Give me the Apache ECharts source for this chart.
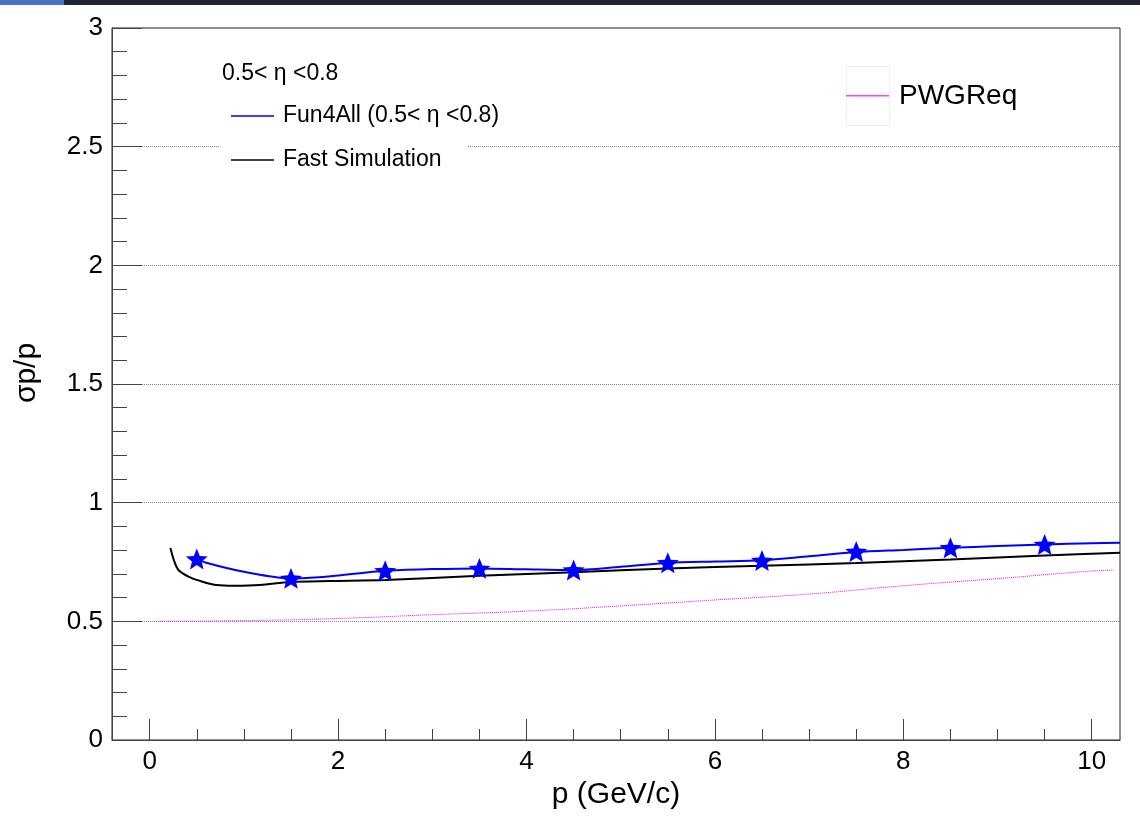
<!DOCTYPE html>
<html>
<head>
<meta charset="utf-8">
<script src="https://cdn.jsdelivr.net/npm/echarts@6/dist/echarts.min.js"></script>
<style>
html,body{margin:0;padding:0;background:#fff;}
#chart{width:1140px;height:822px;}
</style>
</head>
<body>
<div id="chart"></div>
<script>
// ---- data ----
const fun4allP     = [0.5, 0.6, 1.0, 1.5, 1.8, 2.0, 2.5, 3.0, 3.5, 4.0, 4.5, 5.0, 5.5, 6.0, 6.5, 7.0, 7.5, 8.0, 8.5, 9.0, 9.5, 10.0, 10.3];
const fun4allSigma = [0.763, 0.747, 0.709, 0.681, 0.686, 0.693, 0.713, 0.720, 0.723, 0.719, 0.716, 0.730, 0.746, 0.752, 0.757, 0.774, 0.792, 0.801, 0.810, 0.817, 0.824, 0.829, 0.831];
const starP        = [0.5, 1.5, 2.5, 3.5, 4.5, 5.5, 6.5, 7.5, 8.5, 9.5];
const starSigma    = [0.763, 0.681, 0.713, 0.723, 0.716, 0.747, 0.756, 0.794, 0.810, 0.824];
const fastP        = [0.22, 0.30, 0.43, 0.57, 0.71, 0.90, 1.17, 1.49, 1.91, 2.5, 3.5, 4.5, 5.5, 6.5, 7.5, 8.5, 9.5, 10.3];
const fastSigma    = [0.809, 0.719, 0.685, 0.666, 0.653, 0.650, 0.653, 0.666, 0.670, 0.674, 0.692, 0.707, 0.723, 0.734, 0.746, 0.761, 0.777, 0.789];
const pwgP         = [0.05, 1.0, 2.0, 3.0, 4.0, 5.0, 6.0, 7.0, 8.0, 9.0, 10.0, 10.23];
const pwgSigma     = [0.500, 0.503, 0.512, 0.528, 0.543, 0.565, 0.590, 0.615, 0.650, 0.680, 0.712, 0.716];
const xMajorTicks  = [0, 2, 4, 6, 8, 10];
const xMinorTicks  = [0.5, 1, 1.5, 2.5, 3, 3.5, 4.5, 5, 5.5, 6.5, 7, 7.5, 8.5, 9, 9.5];
const etaLabel     = '0.5< η <0.8';

const zip = (a, b) => a.map((v, i) => [v, b[i]]);
const FONT = 'Liberation Sans, Arial, Helvetica, sans-serif';
const STAR = 'path://M50 0L62.93 32.2L97.55 34.55L70.92 56.8L79.39 90.45L50 72L20.61 90.45L29.08 56.8L2.45 34.55L37.07 32.2Z';
const SOLID_ICON = 'path://M0 0H86V3H0Z';
const EMPTY_ICON = 'path://M0 0H1V1H0Z';

const chart = echarts.init(document.getElementById('chart'), null, {renderer: 'canvas'});
chart.setOption({
  backgroundColor: '#fff',
  animation: false,
  textStyle: {fontFamily: FONT},
  grid: {left: 112, top: 28, right: 20, bottom: 82, show: true, borderColor: '#222', borderWidth: 1, backgroundColor: 'transparent'},
  title: {
    text: etaLabel, left: 222, top: 62, padding: 0, z: 10,
    textStyle: {fontFamily: FONT, fontSize: 23, fontWeight: 'normal', color: '#000'}
  },
  graphic: [
    {type: 'rect', z: 100, shape: {x: 0, y: 0, width: 1140, height: 5}, style: {fill: '#1e2430'}},
    {type: 'rect', z: 101, shape: {x: 0, y: 0, width: 64, height: 5}, style: {fill: '#4472c4'}},
    {type: 'rect', z: 1, shape: {x: 220, y: 48, width: 248, height: 136}, style: {fill: '#fff'}},
    {type: 'rect', z: 1, shape: {x: 846.5, y: 66.5, width: 43, height: 59}, style: {fill: '#fff', stroke: '#eeeeee', lineWidth: 1}},
    {type: 'rect', z: 30, shape: {x: 846, y: 95, width: 43, height: 1.5}, style: {fill: '#ff44ff'}}
  ],
  legend: [
    {
      orient: 'vertical', left: 231, top: 101, padding: 0,
      itemWidth: 43, itemHeight: 30, itemGap: 14,
      data: [
        {name: 'Fun4All (' + etaLabel + ')', icon: SOLID_ICON},
        {name: 'Fast Simulation', icon: SOLID_ICON}
      ],
      textStyle: {fontFamily: FONT, fontSize: 23, color: '#000', lineHeight: 30, padding: [0, 0, 0, 4]}
    },
    {
      orient: 'vertical', left: 846, top: 66, padding: 0,
      itemWidth: 43, itemHeight: 59,
      itemStyle: {opacity: 0},
      data: [{name: 'PWGReq', icon: EMPTY_ICON}],
      textStyle: {fontFamily: FONT, fontSize: 28, color: '#000', lineHeight: 59, padding: [2, 0, 0, 5]}
    }
  ],
  xAxis: [
    {
      type: 'value', min: -0.4, max: 10.3,
      name: 'p (GeV/c)', nameLocation: 'middle', nameGap: 38,
      nameTextStyle: {fontFamily: FONT, fontSize: 30, color: '#000'},
      axisLine: {show: true, onZero: false, lineStyle: {color: '#444', width: 1}},
      axisTick: {show: true, inside: true, length: 21, customValues: xMajorTicks, lineStyle: {color: '#444'}},
      axisLabel: {show: true, customValues: xMajorTicks, margin: 9, fontFamily: FONT, fontSize: 26, color: '#000'},
      splitLine: {show: false}
    },
    {
      type: 'value', min: -0.4, max: 10.3, position: 'bottom',
      axisLine: {show: false, onZero: false},
      axisTick: {show: true, inside: true, length: 11, customValues: xMinorTicks, lineStyle: {color: '#444'}},
      axisLabel: {show: false},
      splitLine: {show: false}
    }
  ],
  yAxis: {
    type: 'value', min: 0, max: 3, interval: 0.5,
    name: 'σp/p', nameLocation: 'middle', nameGap: 70,
    nameTextStyle: {fontFamily: FONT, fontSize: 30, color: '#000', padding: [0, 0, 0, 22]},
    axisLine: {show: true, onZero: false, lineStyle: {color: '#444', width: 1}},
    axisTick: {show: true, inside: true, length: 30, lineStyle: {color: '#444'}},
    minorTick: {show: true, splitNumber: 5, length: 15, lineStyle: {color: '#444'}},
    axisLabel: {margin: 9, fontFamily: FONT, fontSize: 26, color: '#000'},
    splitLine: {show: true, lineStyle: {color: '#888', type: 'dotted', width: 1}}
  },
  series: [
    {
      name: 'PWGReq', type: 'line', data: zip(pwgP, pwgSigma), symbol: 'none', smooth: true,
      color: '#ff00ff', itemStyle: {color: '#ff00ff'}, lineStyle: {color: '#ff00ff', width: 1, type: 'dotted'}, z: 3
    },
    {
      name: 'Fast Simulation', type: 'line', data: zip(fastP, fastSigma), symbol: 'none', smooth: 0.3,
      color: '#000', itemStyle: {color: '#000'}, lineStyle: {color: '#000', width: 2}, z: 4
    },
    {
      name: 'Fun4All (' + etaLabel + ')', type: 'line', data: zip(fun4allP, fun4allSigma), symbol: 'none', smooth: 0.3,
      color: '#0000ff', itemStyle: {color: '#0000ff'}, lineStyle: {color: '#0000ff', width: 2}, z: 5
    },
    {
      name: 'Fun4All points', type: 'scatter', data: zip(starP, starSigma),
      symbol: STAR, symbolSize: 22, symbolKeepAspect: true,
      itemStyle: {color: '#0000ff', opacity: 1}, z: 6
    }
  ]
});
</script>
</body>
</html>
